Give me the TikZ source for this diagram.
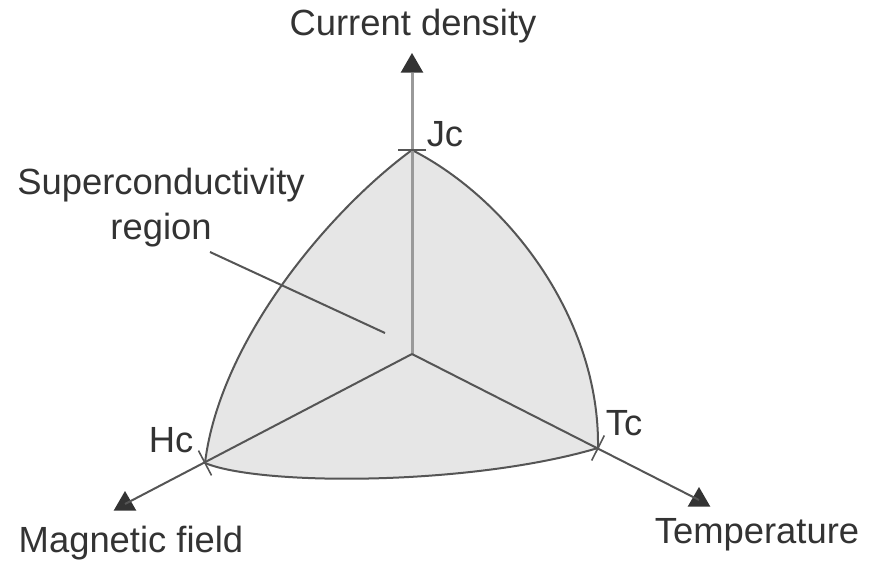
\documentclass[tikz,border=0pt]{standalone}
\usepackage{fontspec}
\setmainfont{Liberation Sans}
\usetikzlibrary{calc,shapes.geometric}
\definecolor{diagink}{HTML}{333333}
\definecolor{diagline}{HTML}{555555}
\definecolor{diagaxis}{HTML}{9A9A9A}
\definecolor{diagfill}{HTML}{E6E6E6}

\begin{document}
\begin{tikzpicture}[x=0.5pt, y=-0.5pt,
                    every node/.style={diagink, font=\fontsize{18.2}{22.5}\selectfont},
                    tiphead/.style={regular polygon, regular polygon sides=3, fill=diagink,
                                    inner sep=0pt, minimum size=13pt},
                    axisline/.style={diagline, line width=1pt},
                    tickmark/.style={diagline, line width=0.8pt}]

  \useasboundingbox (0,0) rectangle (875,563);

  %% Ursprung und kritische Werte
  \coordinate (o)  at (412,354);
  \coordinate (jc) at (412,150);
  \coordinate (hc) at (205,463);
  \coordinate (tc) at (598,448);

  %% Supraleitender Bereich
  \fill[diagfill]
    (jc) .. controls (510,200) and (600,320) .. (tc)
         .. controls (470,486) and (260,486) .. (hc)
         .. controls (220,340) and (330,210) .. (jc) -- cycle;
  \draw[diagline, line width=1pt]
    (jc) .. controls (510,200) and (600,320) .. (tc)
         .. controls (470,486) and (260,486) .. (hc)
         .. controls (220,340) and (330,210) .. (jc);

  %% Achsen
  \node[tiphead] (jtip) at (412,66) {};
  \node[tiphead] (htip) at (125,504) {};
  \node[tiphead] (ttip) at (699,500) {};
  \draw[diagaxis, line width=1.5pt] (o) -- (jtip.south);
  \draw[axisline] (o) -- (htip.center);
  \draw[axisline] (o) -- (ttip.center);

  %% Markierungen
  \draw[tickmark] ($(jc)!7pt!90:(o)$) -- ($(jc)!7pt!-90:(o)$);
  \draw[tickmark] ($(hc)!7pt!90:(o)$) -- ($(hc)!7pt!-90:(o)$);
  \draw[tickmark] ($(tc)!7pt!90:(o)$) -- ($(tc)!7pt!-90:(o)$);

  \node (jlab) at (445,134) {Jc};
  \node (hlab) at (171,440) {Hc};
  \node (tlab) at (624,423) {Tc};

  \node (cur) at (413,26) {Current density};
  \node (mag) at (131,543) {Magnetic field};
  \node (tem) at (757,535) {Temperature};

  %% Beschriftung
  \node[align=center] (sup) at (161,208) {Superconductivity\\region};
  \coordinate (lead) at (210,252);
  \coordinate (inner) at (385,333);
  \draw[diagline, line width=1pt] (lead) -- (inner);

\end{tikzpicture}
\end{document}
